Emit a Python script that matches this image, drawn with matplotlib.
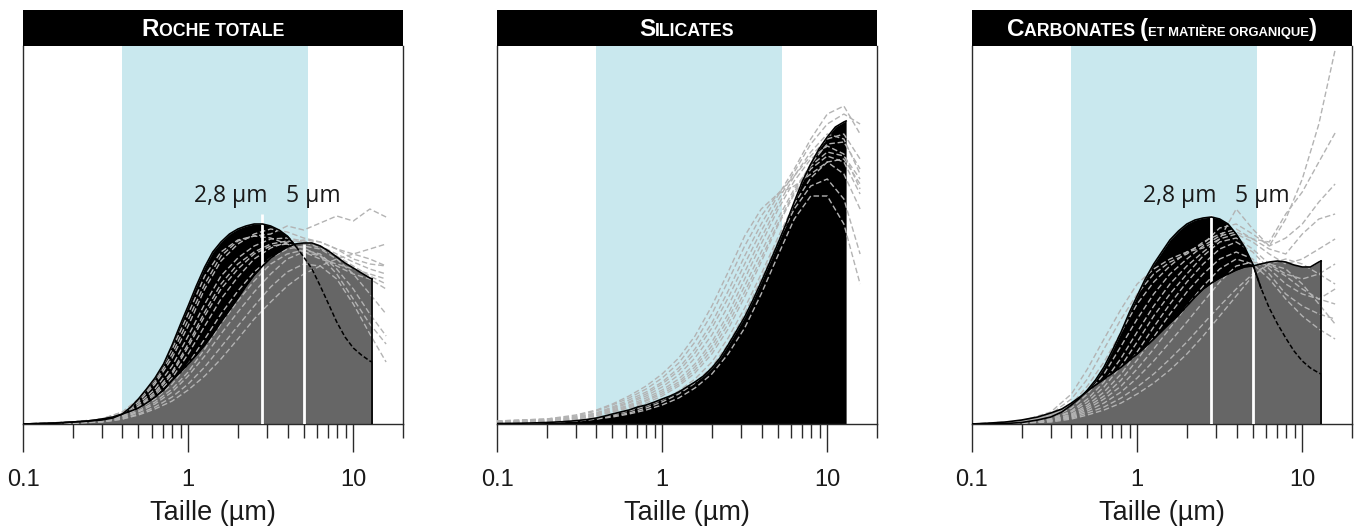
import matplotlib
matplotlib.use("Agg")
import matplotlib.pyplot as plt
import numpy as np
from matplotlib.offsetbox import TextArea, HPacker, AnchoredOffsetbox
from matplotlib.ticker import NullFormatter

plt.rcParams['font.family'] = ['Liberation Sans', 'DejaVu Sans']

# ---------------- data ----------------
# grain size grid for the mean curves (µm)
x_main = [0.1, 0.13, 0.16, 0.2, 0.25, 0.3, 0.35, 0.4, 0.45, 0.5,
          0.56, 0.63, 0.71, 0.8, 0.9, 1.0, 1.12, 1.26, 1.41, 1.58,
          1.78, 2.0, 2.24, 2.51, 2.82, 3.16, 3.55, 3.98, 4.47, 5.01,
          5.62, 6.31, 7.08, 7.94, 8.91, 10.0, 11.2, 12.6, 13.0]

# Roche totale: black-filled curve (mode 2.8 µm) and grey-filled curve (mode 5 µm)
rt_black = [0, 0.5, 1, 2, 3, 4, 6, 10, 17, 25,
            35, 46, 60, 79, 100, 118, 138, 157, 172, 182,
            190, 195, 198, 200, 200, 198, 194, 188, 178, 167,
            155, 138, 120, 102, 87, 76, 69, 63, 62]
rt_gray = [0, 0.5, 1, 2, 3, 5, 7, 10, 13, 16,
           21, 27, 34, 44, 52, 60, 69, 79, 90, 102,
           114, 126, 138, 149, 158, 166, 172, 177, 180, 181,
           181, 178, 173, 167, 161, 156, 151, 146, 145]

# Silicates: black-filled curve
si_black = [0.5, 0.7, 1, 1.5, 2.3, 3.3, 4.5, 6, 8, 10,
            12, 14, 17, 19, 22, 25, 28, 32, 37, 42,
            48, 56, 66, 79, 93, 107, 124, 142, 161, 180,
            200, 222, 243, 260, 275, 287, 297, 302, 303]

# Carbonates: black-filled and grey-filled curves
ca_black = [0, 0, 0.5, 1.5, 4, 7, 12, 19, 26, 34,
            44, 57, 74, 92, 112, 128, 145, 160, 172, 184,
            193, 200, 204, 206, 207, 205, 200, 190, 177, 160,
            136, 116, 100, 86, 73, 63, 56, 51, 50]
ca_gray = [0, 1, 2, 4, 7, 11, 15, 21, 27, 33,
           39, 45, 51, 57, 64, 70, 77, 85, 93, 101,
           109, 118, 127, 135, 141, 146, 150, 154, 157, 158,
           160, 162, 163, 162, 159, 157, 157, 162, 163]

# grid for the individual sample curves (grey dashed)
x_samp = [0.1, 0.2, 0.3, 0.4, 0.5, 0.63, 0.8, 1.0, 1.26, 1.58,
          2.0, 2.51, 3.16, 3.98, 5.01, 6.31, 7.94, 10.0, 12.6, 15.8]

rt_samples = [
    [0, 2, 5, 12, 25, 45, 75, 110, 148, 172, 184, 188, 190, 198, 194, 201, 208, 203, 215, 207],
    [0, 2, 5, 11, 22, 40, 66, 98, 135, 163, 180, 190, 195, 192, 186, 182, 175, 170, 165, 158],
    [0, 2, 4, 10, 20, 35, 58, 88, 120, 148, 166, 178, 185, 186, 183, 178, 170, 162, 155, 150],
    [0, 1, 4, 9, 18, 32, 52, 80, 112, 140, 160, 172, 180, 183, 182, 176, 168, 158, 148, 140],
    [0, 1, 4, 8, 16, 28, 46, 70, 98, 125, 147, 165, 176, 182, 184, 182, 175, 165, 160, 158],
    [0, 1, 3, 8, 15, 25, 40, 60, 85, 110, 133, 152, 166, 175, 178, 175, 165, 150, 130, 110],
    [0, 1, 3, 7, 13, 22, 35, 52, 75, 100, 123, 143, 160, 170, 174, 170, 155, 135, 110, 88],
    [0, 1, 3, 6, 12, 20, 32, 48, 68, 90, 112, 132, 150, 165, 172, 168, 150, 125, 100, 80],
    [0, 1, 2, 5, 10, 17, 27, 40, 57, 77, 98, 118, 137, 152, 160, 158, 145, 120, 90, 62],
    [0, 1, 2, 5, 9, 15, 23, 34, 48, 65, 85, 105, 122, 138, 150, 158, 165, 170, 175, 180],
    [0, 1, 3, 8, 17, 30, 50, 77, 108, 135, 155, 170, 178, 180, 176, 168, 158, 150, 145, 135],
    [0, 2, 5, 12, 24, 42, 70, 104, 140, 168, 183, 188, 186, 180, 172, 165, 160, 155, 150, 145],
]

si_samples = [
    [3, 5, 9, 14, 20, 28, 38, 50, 66, 88, 118, 152, 188, 215, 230, 238, 250, 262, 265, 240],
    [3, 5, 8, 13, 19, 26, 35, 46, 61, 82, 110, 143, 178, 208, 230, 248, 268, 285, 290, 265],
    [2, 4, 7, 11, 17, 24, 32, 42, 56, 75, 101, 133, 168, 200, 228, 255, 285, 310, 318, 290],
    [2, 4, 7, 11, 16, 22, 30, 40, 53, 71, 96, 126, 160, 193, 223, 252, 280, 300, 310, 300],
    [2, 4, 6, 10, 15, 21, 28, 37, 49, 66, 89, 118, 152, 186, 218, 248, 272, 290, 285, 250],
    [2, 3, 6, 9, 14, 19, 26, 34, 45, 60, 82, 110, 145, 180, 214, 243, 265, 278, 270, 235],
    [2, 3, 5, 9, 13, 18, 24, 32, 42, 57, 78, 105, 138, 172, 205, 235, 258, 272, 268, 245],
    [1, 3, 5, 8, 12, 17, 23, 30, 40, 54, 74, 100, 132, 166, 200, 232, 260, 280, 282, 255],
    [1, 2, 3, 5, 7, 10, 14, 19, 26, 36, 50, 70, 96, 130, 168, 205, 228, 228, 200, 140],
    [1, 2, 3, 5, 8, 11, 16, 22, 30, 41, 57, 80, 110, 145, 182, 215, 238, 245, 225, 170],
    [1, 2, 4, 6, 9, 13, 18, 24, 33, 45, 62, 86, 116, 150, 186, 220, 246, 262, 250, 215],
    [2, 3, 5, 8, 12, 16, 21, 28, 38, 51, 70, 95, 127, 162, 198, 230, 255, 268, 262, 230],
]

ca_samples = [
    [0, 3, 12, 30, 55, 85, 115, 140, 155, 165, 172, 176, 185, 215, 195, 178, 205, 245, 300, 374],
    [0, 2, 10, 25, 45, 75, 105, 130, 150, 162, 170, 182, 190, 195, 185, 182, 210, 232, 262, 291],
    [0, 2, 8, 20, 38, 62, 92, 120, 142, 158, 172, 180, 196, 200, 190, 178, 186, 200, 222, 240],
    [0, 1, 6, 16, 30, 50, 78, 105, 130, 150, 165, 178, 188, 192, 185, 175, 170, 190, 205, 210],
    [0, 1, 5, 13, 25, 42, 66, 92, 118, 140, 158, 172, 185, 190, 182, 170, 160, 165, 175, 185],
    [0, 1, 5, 12, 22, 37, 58, 82, 108, 130, 150, 168, 182, 186, 175, 160, 150, 145, 150, 160],
    [0, 1, 4, 10, 19, 32, 50, 72, 97, 120, 142, 160, 175, 182, 172, 155, 140, 130, 125, 135],
    [0, 1, 4, 9, 17, 28, 44, 64, 87, 110, 132, 150, 165, 172, 165, 150, 130, 118, 110, 105],
    [0, 1, 3, 8, 15, 25, 38, 55, 75, 96, 118, 138, 155, 165, 160, 145, 125, 108, 95, 85],
    [0, 1, 3, 7, 13, 21, 32, 46, 63, 82, 102, 122, 142, 158, 162, 158, 148, 135, 125, 120],
    [0, 1, 3, 6, 11, 17, 26, 37, 50, 65, 82, 100, 118, 135, 150, 160, 165, 160, 150, 140],
    [0, 1, 2, 5, 9, 14, 21, 30, 41, 54, 70, 88, 108, 128, 148, 160, 155, 140, 120, 100],
]

# modes marked by white lines (µm) and how high each line goes
mode_x = [2.8, 5.0]
rt_mode_top = [210, 180]
ca_mode_top = [209, 157]
mode_labels = ["2,8 µm", "5 µm"]
mode_label_x = [1.82, 5.7]
mode_label_y = 222

band = (0.4, 5.3)   # shaded size range (µm)

titles = [
    [("R", 17.5, 'bold'), ("OCHE TOTALE", 12.8, 'bold')],
    [("S", 17.5, 'bold'), ("ILICATES", 12.8, 'bold')],
    [("C", 17.5, 'bold'), ("ARBONATES ", 12.8, 'bold'), ("(", 17.5, 'bold'),
     ("ET MATIÈRE ORGANIQUE", 9.4, 'bold'), (")", 17.5, 'bold')],
]

major_ticks = [0.1, 1, 10]
major_labels = ["0.1", "1", "10"]
minor_ticks = [0.2, 0.3, 0.4, 0.5, 0.6, 0.7, 0.8, 0.9,
               2, 3, 4, 5, 6, 7, 8, 9, 20]

# ---------------- style ----------------
BLUE = '#c9e8ee'
DGRAY = '#666666'
LGRAY = '#b3b3b3'
HATCH = '#a9a9a9'
SPINE = '#2a2a2a'

W, H = 1354, 529
fig = plt.figure(figsize=(W / 100, H / 100), dpi=100)

lefts = [23, 497, 972]
ax_w = 380
ax_top, ax_bot = 46, 424
bar_top = 10


def setup_axes(left):
    ax = fig.add_axes([left / W, 1 - ax_bot / H, ax_w / W, (ax_bot - ax_top) / H])
    ax.set_xscale('log')
    ax.set_xlim(0.1, 20)
    ax.set_ylim(0, ax_bot - ax_top)
    ax.set_yticks([])
    ax.set_xticks(major_ticks)
    ax.set_xticklabels(major_labels)
    ax.set_xticks(minor_ticks, minor=True)
    ax.xaxis.set_minor_formatter(NullFormatter())
    ax.tick_params(axis='x', which='major', length=20, width=1.0, color=SPINE,
                   direction='out', pad=12.5, labelsize=17, labelcolor='#1a1a1a')
    ax.tick_params(axis='x', which='minor', length=10, width=1.0, color=SPINE,
                   direction='out')
    for s in ('left', 'right', 'bottom'):
        ax.spines[s].set_color(SPINE)
        ax.spines[s].set_linewidth(1.0)
    ax.spines['top'].set_visible(False)
    ax.set_xlabel("Taille (µm)", fontsize=19.5, labelpad=6.5, color='#1a1a1a')
    ax.axvspan(band[0], band[1], color=BLUE, lw=0, zorder=0)
    return ax


def title_bar(left, parts):
    tax = fig.add_axes([left / W, 1 - ax_top / H, ax_w / W, (ax_top - bar_top) / H])
    tax.set_facecolor('black')
    tax.set_xticks([]); tax.set_yticks([])
    for s in tax.spines.values():
        s.set_visible(False)
    children = [TextArea(t, textprops=dict(color='white', fontsize=fs, fontweight=fw,
                                            family='Liberation Sans'))
                for t, fs, fw in parts]
    box = HPacker(children=children, align="baseline", pad=0, sep=0)
    anch = AnchoredOffsetbox(loc='center', child=box, pad=0, borderpad=0, frameon=False,
                             bbox_to_anchor=(0.5, 0.47), bbox_transform=tax.transAxes)
    tax.add_artist(anch)


def draw_samples(ax, samples):
    for s in samples:
        ax.plot(x_samp, s, color=LGRAY, lw=1.0, dashes=(4, 2), zorder=4)


def draw_two_curves(ax, blk, gry, mode_top):
    xm = np.array(x_main)
    b = np.array(blk, dtype=float)
    g = np.array(gry, dtype=float)
    ax.fill_between(xm, 0, b, color='black', lw=0, zorder=1)
    ax.fill_between(xm, 0, g, color=DGRAY, lw=0, zorder=2)
    left_part = (g > b) & (xm < 1)
    ax.fill_between(xm, b, g, where=left_part, color=HATCH, lw=0, zorder=2.5,
                    interpolate=True)
    # black curve: solid while on top, dashed once inside the grey area on the right
    cut = int(np.argmax((xm > 3) & (b < g)))
    ax.plot(xm[:cut + 1], b[:cut + 1], color='black', lw=1.2, zorder=6)
    ax.plot(xm[cut - 1:], b[cut - 1:], color='black', lw=1.1, dashes=(3, 1.5), zorder=6)
    ax.plot(xm, g, color='black', lw=1.2, zorder=6)
    ax.plot([xm[-1], xm[-1]], [0, g[-1]], color='black', lw=1.2, zorder=6)
    for mx, top in zip(mode_x, mode_top):
        ax.plot([mx, mx], [0, top], color='white', lw=2.0, zorder=5, solid_capstyle='butt')
    for lx, lab in zip(mode_label_x, mode_labels):
        ax.text(lx, mode_label_y, lab, ha='center', va='baseline', fontsize=16.5,
                family=['Open Sans', 'DejaVu Sans'], color='#1a1a1a', zorder=7)


# Panel 1: Roche totale
ax1 = setup_axes(lefts[0])
draw_two_curves(ax1, rt_black, rt_gray, rt_mode_top)
draw_samples(ax1, rt_samples)
title_bar(lefts[0], titles[0])

# Panel 2: Silicates
ax2 = setup_axes(lefts[1])
ax2.fill_between(x_main, 0, si_black, color='black', lw=0, zorder=1)
ax2.plot(x_main, si_black, color='black', lw=1.2, zorder=6)
draw_samples(ax2, si_samples)
title_bar(lefts[1], titles[1])

# Panel 3: Carbonates
ax3 = setup_axes(lefts[2])
draw_two_curves(ax3, ca_black, ca_gray, ca_mode_top)
draw_samples(ax3, ca_samples)
title_bar(lefts[2], titles[2])

fig.savefig("out.png", dpi=100, facecolor='white')
